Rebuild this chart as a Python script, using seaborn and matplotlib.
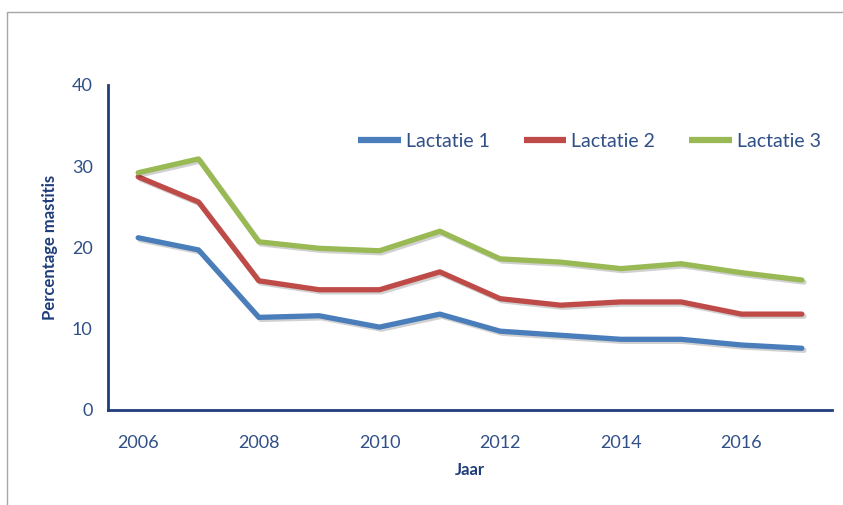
import matplotlib.pyplot as plt
import matplotlib.patheffects as pe
from matplotlib.patches import Rectangle
from matplotlib.ticker import FixedLocator
import seaborn as sns
import pandas as pd

years = list(range(2006, 2018))
lactatie_1 = [21.2, 19.7, 11.4, 11.6, 10.2, 11.8, 9.7, 9.2, 8.7, 8.7, 8.0, 7.6]
lactatie_2 = [28.7, 25.6, 15.9, 14.8, 14.8, 17.0, 13.7, 12.9, 13.3, 13.3, 11.8, 11.8]
lactatie_3 = [29.2, 30.9, 20.7, 19.9, 19.6, 22.0, 18.6, 18.2, 17.4, 18.0, 16.9, 16.0]
series_names = ["Lactatie 1", "Lactatie 2", "Lactatie 3"]
tick_labels = ["2006", "2008", "2010", "2012", "2014", "2016"]

rows = []
for name, vals in zip(series_names, [lactatie_1, lactatie_2, lactatie_3]):
    for i, v in enumerate(vals):
        rows.append({"pos": i, "Jaar": years[i], "value": v, "serie": name})
df = pd.DataFrame(rows)

sns.set_style("white")
plt.rcParams['font.family'] = ['Lato', 'DejaVu Sans']

axis_col = "#1f3d7a"
text_col = "#2f4f86"
palette = {"Lactatie 1": "#4a7ebb", "Lactatie 2": "#be4b48", "Lactatie 3": "#98b954"}

fig = plt.figure(figsize=(8.43, 5.05), dpi=100)
fig.patches.append(Rectangle((7 / 843, -0.01), 1.0, 1 - 12 / 505 + 0.01,
                             transform=fig.transFigure, fill=False,
                             edgecolor="#a6a6a6", linewidth=1.0))
ax = fig.add_axes([108 / 843, 95 / 505, 724 / 843, 325 / 505])

sns.lineplot(data=df, x="pos", y="value", hue="serie", palette=palette,
             linewidth=3.8, ax=ax, legend=True)
for line in ax.lines:
    line.set_path_effects([pe.SimpleLineShadow(offset=(1.5, -1.5), alpha=0.18, shadow_color="black"),
                           pe.Normal()])
    line.set_solid_capstyle("round")

ax.set_xlim(-0.5, 11.5)
ax.set_ylim(0, 40)
ax.set_yticks([0, 10, 20, 30, 40])
ax.set_xticks([0, 2, 4, 6, 8, 10])
ax.set_xticklabels(tick_labels)
ax.xaxis.set_minor_locator(FixedLocator([i - 0.5 for i in range(13)]))
ax.tick_params(axis="x", which="major", length=0, pad=18, labelsize=13, labelcolor=text_col)
ax.tick_params(axis="x", which="minor", length=6, width=1.5, color=axis_col, direction="out")
ax.tick_params(axis="y", which="major", length=5, width=1.5, color=axis_col, direction="out",
               labelsize=13, labelcolor=text_col, pad=6)

for side in ["top", "right"]:
    ax.spines[side].set_visible(False)
for side in ["left", "bottom"]:
    ax.spines[side].set_color(axis_col)
    ax.spines[side].set_linewidth(2)

ax.set_xlabel("Jaar", fontsize=12, fontweight="bold", color=axis_col, labelpad=8)
ax.set_ylabel("Percentage mastitis", fontsize=12, fontweight="bold", color=axis_col, labelpad=10)

handles, labels = ax.get_legend_handles_labels()
leg = ax.legend(handles, labels, ncol=3, frameon=False, loc="upper left",
                bbox_to_anchor=(0.345, 0.852), borderaxespad=0, borderpad=0,
                fontsize=14, handlelength=2.2, handletextpad=0.26,
                columnspacing=1.75, labelcolor=text_col)
for h in leg.legend_handles:
    h.set_linewidth(4.5)
    h.set_solid_capstyle("butt")
    h.set_path_effects([])

fig.savefig("out.png", dpi=100, facecolor="white")
